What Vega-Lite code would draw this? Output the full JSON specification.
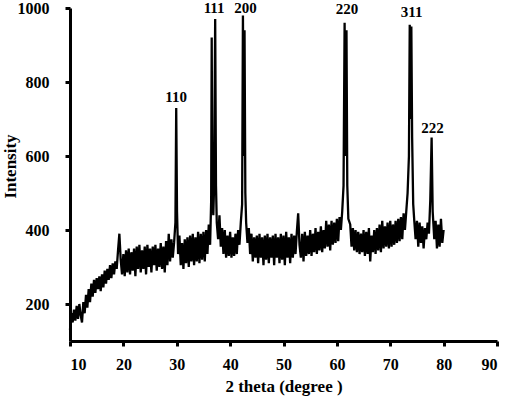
{
  "$schema": "https://vega.github.io/schema/vega-lite/v6.json",
  "width": 427,
  "height": 333,
  "autosize": {"type": "none"},
  "padding": {"left": 70, "top": 8, "right": 8, "bottom": 55},
  "background": "white",
  "config": {
    "view": {"stroke": null},
    "font": "Liberation Serif",
    "axis": {
      "grid": false,
      "domainColor": "black",
      "domainWidth": 3,
      "tickColor": "black",
      "tickWidth": 3,
      "tickSize": 5,
      "labelFont": "Liberation Serif",
      "labelFontWeight": "bold",
      "labelFontSize": 16,
      "labelColor": "black",
      "titleFont": "Liberation Serif",
      "titleFontWeight": "bold",
      "titleFontSize": 17,
      "titleColor": "black"
    }
  },
  "datasets": {
    "xrd": [
      {"t":10.00,"i":130},{"t":10.25,"i":175},{"t":10.50,"i":150},{"t":10.75,"i":185},
      {"t":11.00,"i":155},{"t":11.25,"i":195},{"t":11.50,"i":160},{"t":11.75,"i":200},
      {"t":12.00,"i":170},{"t":12.25,"i":150},{"t":12.50,"i":205},{"t":12.75,"i":175},
      {"t":13.00,"i":225},{"t":13.25,"i":190},{"t":13.50,"i":240},{"t":13.75,"i":205},
      {"t":14.00,"i":255},{"t":14.25,"i":220},{"t":14.50,"i":265},{"t":14.75,"i":230},
      {"t":15.00,"i":270},{"t":15.25,"i":240},{"t":15.50,"i":275},{"t":15.75,"i":235},
      {"t":16.00,"i":280},{"t":16.25,"i":245},{"t":16.50,"i":290},{"t":16.75,"i":255},
      {"t":17.00,"i":295},{"t":17.25,"i":265},{"t":17.50,"i":305},{"t":17.75,"i":270},
      {"t":18.00,"i":310},{"t":18.25,"i":280},{"t":18.50,"i":315},{"t":18.75,"i":295},
      {"t":19.00,"i":345},{"t":19.25,"i":390},{"t":19.50,"i":320},{"t":19.75,"i":280},
      {"t":20.00,"i":335},{"t":20.25,"i":275},{"t":20.50,"i":345},{"t":20.75,"i":285},
      {"t":21.00,"i":350},{"t":21.25,"i":280},{"t":21.50,"i":340},{"t":21.75,"i":290},
      {"t":22.00,"i":350},{"t":22.25,"i":275},{"t":22.50,"i":355},{"t":22.75,"i":295},
      {"t":23.00,"i":360},{"t":23.25,"i":285},{"t":23.50,"i":345},{"t":23.75,"i":295},
      {"t":24.00,"i":355},{"t":24.25,"i":280},{"t":24.50,"i":360},{"t":24.75,"i":300},
      {"t":25.00,"i":350},{"t":25.25,"i":285},{"t":25.50,"i":355},{"t":25.75,"i":305},
      {"t":26.00,"i":360},{"t":26.25,"i":290},{"t":26.50,"i":350},{"t":26.75,"i":300},
      {"t":27.00,"i":365},{"t":27.25,"i":295},{"t":27.50,"i":355},{"t":27.75,"i":285},
      {"t":28.00,"i":370},{"t":28.25,"i":305},{"t":28.50,"i":390},{"t":28.75,"i":315},
      {"t":29.00,"i":375},{"t":29.25,"i":325},{"t":29.50,"i":365},{"t":29.75,"i":420},
      {"t":29.90,"i":730},{"t":30.05,"i":450},{"t":30.25,"i":335},{"t":30.50,"i":385},
      {"t":30.75,"i":305},{"t":31.00,"i":365},{"t":31.25,"i":295},{"t":31.50,"i":375},
      {"t":31.75,"i":310},{"t":32.00,"i":380},{"t":32.25,"i":300},{"t":32.50,"i":385},
      {"t":32.75,"i":315},{"t":33.00,"i":390},{"t":33.25,"i":305},{"t":33.50,"i":380},
      {"t":33.75,"i":315},{"t":34.00,"i":395},{"t":34.25,"i":310},{"t":34.50,"i":390},
      {"t":34.75,"i":320},{"t":35.00,"i":395},{"t":35.25,"i":315},{"t":35.50,"i":400},
      {"t":35.75,"i":335},{"t":36.00,"i":415},{"t":36.25,"i":360},{"t":36.45,"i":480},
      {"t":36.55,"i":920},{"t":36.65,"i":500},{"t":36.85,"i":440},{"t":37.00,"i":520},
      {"t":37.20,"i":970},{"t":37.35,"i":520},{"t":37.50,"i":420},{"t":37.75,"i":375},
      {"t":38.00,"i":440},{"t":38.25,"i":355},{"t":38.50,"i":405},{"t":38.75,"i":335},
      {"t":39.00,"i":400},{"t":39.25,"i":325},{"t":39.50,"i":385},{"t":39.75,"i":330},
      {"t":40.00,"i":395},{"t":40.25,"i":325},{"t":40.50,"i":380},{"t":40.75,"i":330},
      {"t":41.00,"i":390},{"t":41.25,"i":335},{"t":41.50,"i":400},{"t":41.75,"i":360},
      {"t":42.00,"i":420},{"t":42.25,"i":470},{"t":42.40,"i":980},{"t":42.55,"i":600},
      {"t":42.70,"i":940},{"t":42.85,"i":500},{"t":43.00,"i":420},{"t":43.25,"i":365},
      {"t":43.50,"i":405},{"t":43.75,"i":335},{"t":44.00,"i":390},{"t":44.25,"i":315},
      {"t":44.50,"i":380},{"t":44.75,"i":325},{"t":45.00,"i":385},{"t":45.25,"i":310},
      {"t":45.50,"i":390},{"t":45.75,"i":325},{"t":46.00,"i":380},{"t":46.25,"i":305},
      {"t":46.50,"i":385},{"t":46.75,"i":320},{"t":47.00,"i":390},{"t":47.25,"i":310},
      {"t":47.50,"i":380},{"t":47.75,"i":325},{"t":48.00,"i":385},{"t":48.25,"i":305},
      {"t":48.50,"i":390},{"t":48.75,"i":325},{"t":49.00,"i":380},{"t":49.25,"i":310},
      {"t":49.50,"i":390},{"t":49.75,"i":320},{"t":50.00,"i":385},{"t":50.25,"i":305},
      {"t":50.50,"i":395},{"t":50.75,"i":325},{"t":51.00,"i":380},{"t":51.25,"i":310},
      {"t":51.50,"i":390},{"t":51.75,"i":325},{"t":52.00,"i":385},{"t":52.25,"i":335},
      {"t":52.50,"i":395},{"t":52.75,"i":445},{"t":53.00,"i":360},{"t":53.25,"i":325},
      {"t":53.50,"i":390},{"t":53.75,"i":315},{"t":54.00,"i":395},{"t":54.25,"i":330},
      {"t":54.50,"i":385},{"t":54.75,"i":335},{"t":55.00,"i":400},{"t":55.25,"i":330},
      {"t":55.50,"i":390},{"t":55.75,"i":340},{"t":56.00,"i":405},{"t":56.25,"i":335},
      {"t":56.50,"i":395},{"t":56.75,"i":345},{"t":57.00,"i":410},{"t":57.25,"i":340},
      {"t":57.50,"i":400},{"t":57.75,"i":350},{"t":58.00,"i":425},{"t":58.25,"i":355},
      {"t":58.50,"i":415},{"t":58.75,"i":345},{"t":59.00,"i":425},{"t":59.25,"i":360},
      {"t":59.50,"i":420},{"t":59.75,"i":365},{"t":60.00,"i":430},{"t":60.25,"i":370},
      {"t":60.50,"i":435},{"t":60.75,"i":400},{"t":61.00,"i":450},{"t":61.25,"i":520},
      {"t":61.45,"i":960},{"t":61.60,"i":600},{"t":61.80,"i":940},{"t":61.95,"i":520},
      {"t":62.15,"i":430},{"t":62.50,"i":415},{"t":62.75,"i":355},{"t":63.00,"i":405},
      {"t":63.25,"i":345},{"t":63.50,"i":400},{"t":63.75,"i":340},{"t":64.00,"i":395},
      {"t":64.25,"i":335},{"t":64.50,"i":390},{"t":64.75,"i":340},{"t":65.00,"i":400},
      {"t":65.25,"i":330},{"t":65.50,"i":395},{"t":65.75,"i":335},{"t":66.00,"i":405},
      {"t":66.25,"i":315},{"t":66.50,"i":385},{"t":66.75,"i":340},{"t":67.00,"i":400},
      {"t":67.25,"i":335},{"t":67.50,"i":405},{"t":67.75,"i":345},{"t":68.00,"i":415},
      {"t":68.25,"i":340},{"t":68.50,"i":425},{"t":68.75,"i":350},{"t":69.00,"i":410},
      {"t":69.25,"i":355},{"t":69.50,"i":420},{"t":69.75,"i":350},{"t":70.00,"i":425},
      {"t":70.25,"i":355},{"t":70.50,"i":415},{"t":70.75,"i":360},{"t":71.00,"i":425},
      {"t":71.25,"i":365},{"t":71.50,"i":430},{"t":71.75,"i":370},{"t":72.00,"i":435},
      {"t":72.25,"i":375},{"t":72.50,"i":445},{"t":72.75,"i":400},{"t":73.00,"i":450},
      {"t":73.25,"i":500},{"t":73.50,"i":600},{"t":73.65,"i":955},{"t":73.80,"i":700},
      {"t":73.95,"i":950},{"t":74.10,"i":650},{"t":74.30,"i":470},{"t":74.50,"i":425},
      {"t":74.75,"i":375},{"t":75.00,"i":425},{"t":75.25,"i":355},{"t":75.50,"i":420},
      {"t":75.75,"i":365},{"t":76.00,"i":410},{"t":76.25,"i":350},{"t":76.50,"i":405},
      {"t":76.75,"i":375},{"t":77.00,"i":420},{"t":77.25,"i":390},{"t":77.50,"i":480},
      {"t":77.75,"i":650},{"t":77.95,"i":450},{"t":78.25,"i":375},{"t":78.50,"i":425},
      {"t":78.75,"i":350},{"t":79.00,"i":415},{"t":79.25,"i":355},{"t":79.50,"i":430},
      {"t":79.75,"i":365},{"t":80.00,"i":400}
    ],
    "labels": [
      {"t":29.9,"i":760,"hkl":"110"},
      {"t":37.0,"i":1000,"hkl":"111"},
      {"t":42.9,"i":1000,"hkl":"200"},
      {"t":61.9,"i":998,"hkl":"220"},
      {"t":74.0,"i":990,"hkl":"311"},
      {"t":77.9,"i":675,"hkl":"222"}
    ]
  },
  "layer": [
    {
      "data": {"name": "xrd"},
      "mark": {"type": "line", "color": "black", "strokeWidth": 2.3},
      "encoding": {
        "x": {
          "field": "t", "type": "quantitative",
          "scale": {"domain": [10, 90], "nice": false, "zero": false},
          "axis": {
            "values": [10, 20, 30, 40, 50, 60, 70, 80, 90],
            "format": "d",
            "title": "2 theta (degree )",
            "labelPadding": 10,
            "titleY": 45,
            "titleBaseline": "middle"
          }
        },
        "y": {
          "field": "i", "type": "quantitative",
          "scale": {"domain": [100, 1000], "nice": false, "zero": false},
          "axis": {
            "values": [200, 400, 600, 800, 1000],
            "format": "d",
            "title": "Intensity",
            "labelPadding": 16,
            "titleX": -60,
            "titleY": 158,
            "titleAngle": -90,
            "titleAlign": "center",
            "titleBaseline": "middle"
          }
        }
      }
    },
    {
      "data": {"name": "labels"},
      "mark": {"type": "text", "font": "Liberation Serif", "fontWeight": "bold", "fontSize": 15, "color": "black", "baseline": "middle", "align": "center"},
      "encoding": {
        "x": {"field": "t", "type": "quantitative"},
        "y": {"field": "i", "type": "quantitative"},
        "text": {"field": "hkl"}
      }
    }
  ]
}
